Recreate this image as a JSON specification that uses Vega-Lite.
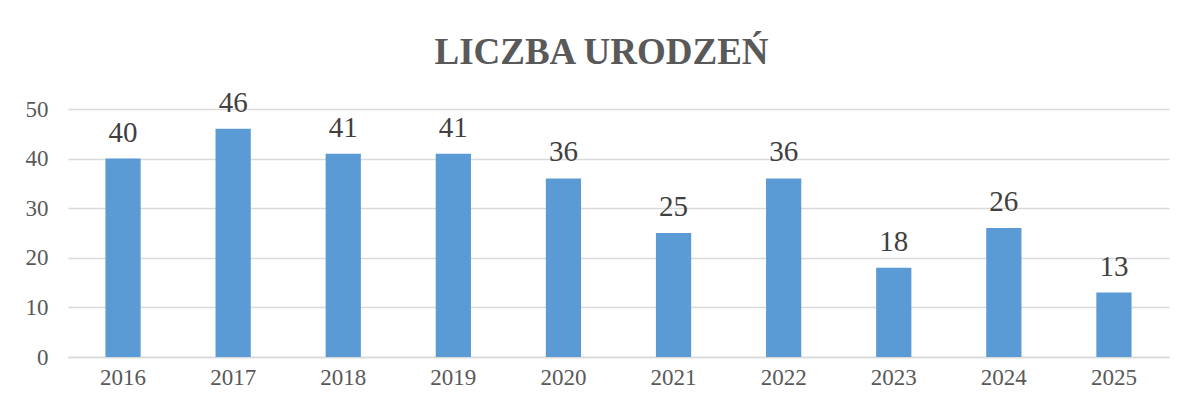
{
  "$schema": "https://vega.github.io/schema/vega-lite/v6.json",
  "width": 1101,
  "height": 248,
  "autosize": {"type": "none"},
  "padding": {"left": 68, "top": 109, "right": 18, "bottom": 53},
  "background": "white",
  "title": {
    "text": "LICZBA URODZEŃ",
    "font": "Liberation Serif",
    "fontSize": 37,
    "fontWeight": "bold",
    "color": "#595959",
    "anchor": "middle",
    "frame": "group",
    "dx": -17,
    "offset": 17
  },
  "data": {
    "values": [
      {"rok": "2016", "liczba": 40},
      {"rok": "2017", "liczba": 46},
      {"rok": "2018", "liczba": 41},
      {"rok": "2019", "liczba": 41},
      {"rok": "2020", "liczba": 36},
      {"rok": "2021", "liczba": 25},
      {"rok": "2022", "liczba": 36},
      {"rok": "2023", "liczba": 18},
      {"rok": "2024", "liczba": 26},
      {"rok": "2025", "liczba": 13}
    ]
  },
  "encoding": {
    "x": {
      "field": "rok",
      "type": "ordinal",
      "scale": {"paddingInner": 0.68, "paddingOuter": 0.34},
      "axis": {
        "title": null,
        "labelAngle": 0,
        "labelFont": "Liberation Serif",
        "labelFontSize": 23,
        "labelColor": "#595959",
        "labelPadding": 9,
        "ticks": false,
        "domainColor": "#d9d9d9",
        "domainWidth": 1.5
      }
    },
    "y": {
      "field": "liczba",
      "type": "quantitative",
      "scale": {"domain": [0, 50], "nice": false},
      "axis": {
        "title": null,
        "values": [0, 10, 20, 30, 40, 50],
        "labelFont": "Liberation Serif",
        "labelFontSize": 23,
        "labelColor": "#595959",
        "labelPadding": 20,
        "ticks": false,
        "domain": false,
        "gridColor": "#d9d9d9",
        "gridWidth": 1.5
      }
    }
  },
  "layer": [
    {"mark": {"type": "bar", "color": "#5b9bd5"}},
    {
      "mark": {
        "type": "text",
        "font": "Liberation Serif",
        "fontSize": 29,
        "color": "#404040",
        "baseline": "alphabetic",
        "dy": -17
      },
      "encoding": {"text": {"field": "liczba", "type": "quantitative"}}
    }
  ],
  "config": {"view": {"stroke": null}}
}
